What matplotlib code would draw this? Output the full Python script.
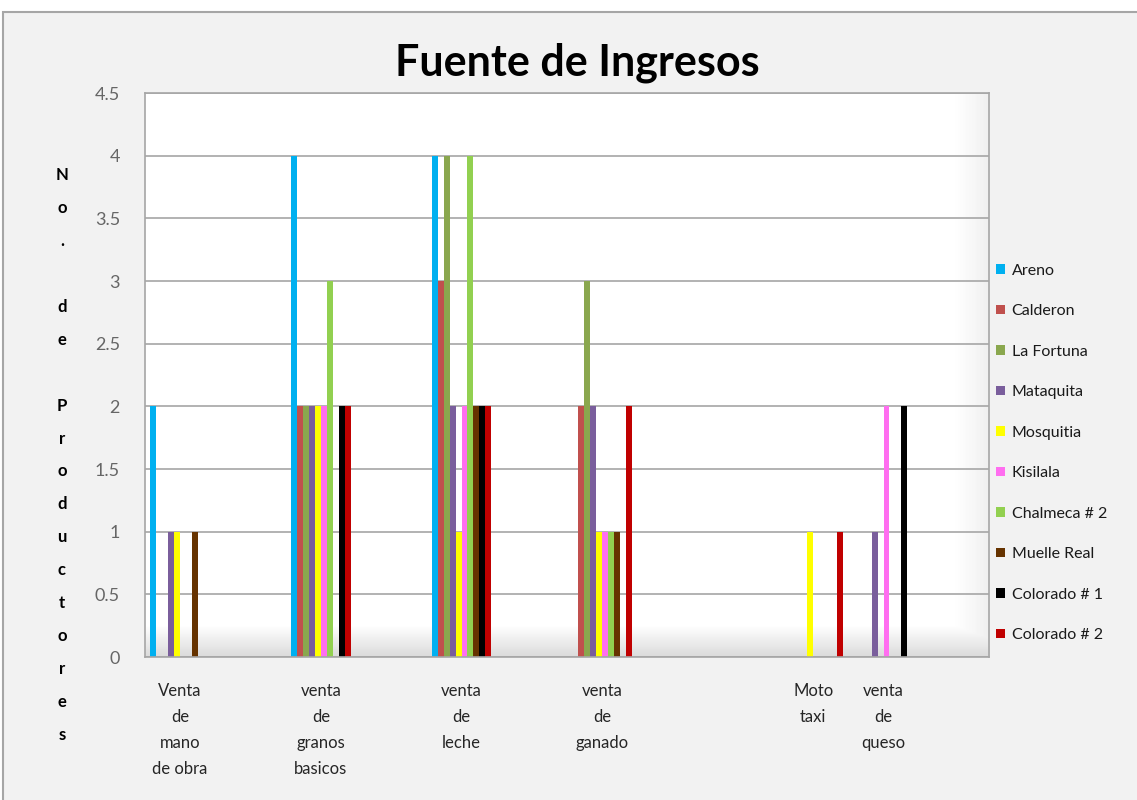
import matplotlib.pyplot as plt
from matplotlib.patches import Rectangle, Patch
import numpy as np

# categories (Excel sheet had blank columns between some of them)
categorias = [
    "Venta\nde\nmano\nde obra", "",
    "venta\nde\ngranos\nbasicos", "",
    "venta\nde\nleche", "",
    "venta\nde\nganado", "", "",
    "Moto\ntaxi",
    "venta\nde\nqueso", "",
]

areno = [2, 0, 4, 0, 4, 0, 0, 0, 0, 0, 0, 0]
calderon = [0, 0, 2, 0, 3, 0, 2, 0, 0, 0, 0, 0]
la_fortuna = [0, 0, 2, 0, 4, 0, 3, 0, 0, 0, 0, 0]
mataquita = [1, 0, 2, 0, 2, 0, 2, 0, 0, 0, 1, 0]
mosquitia = [1, 0, 2, 0, 1, 0, 1, 0, 0, 1, 0, 0]
kisilala = [0, 0, 2, 0, 2, 0, 1, 0, 0, 0, 2, 0]
chalmeca_2 = [0, 0, 3, 0, 4, 0, 1, 0, 0, 0, 0, 0]
muelle_real = [1, 0, 0, 0, 2, 0, 1, 0, 0, 0, 0, 0]
colorado_1 = [0, 0, 2, 0, 2, 0, 0, 0, 0, 0, 2, 0]
colorado_2 = [0, 0, 2, 0, 2, 0, 2, 0, 0, 1, 0, 0]

series = [
    ("Areno", areno, "#00B0F0"),
    ("Calderon", calderon, "#C0504D"),
    ("La Fortuna", la_fortuna, "#8AA74E"),
    ("Mataquita", mataquita, "#7A5E9C"),
    ("Mosquitia", mosquitia, "#FFFF00"),
    ("Kisilala", kisilala, "#FF6EF0"),
    ("Chalmeca # 2", chalmeca_2, "#92D050"),
    ("Muelle Real", muelle_real, "#663300"),
    ("Colorado # 1", colorado_1, "#000000"),
    ("Colorado # 2", colorado_2, "#C00000"),
]

plt.rcParams["font.family"] = ["Lato", "DejaVu Sans"]

W, H = 1137, 800
fig = plt.figure(figsize=(W / 100, H / 100), dpi=100)
fig.patch.set_facecolor("white")

# chart area with grey frame
fig.patches.append(
    Rectangle((3 / W, -0.1), 1.2, 1 - 12 / H + 0.1, transform=fig.transFigure,
              facecolor="#F2F2F2", edgecolor="#A6A6A6", linewidth=1.5, zorder=-1)
)

ax = fig.add_axes([145 / W, 1 - 657 / H, (989 - 145) / W, (657 - 93) / H])
ax.set_zorder(1)
ax.set_facecolor("white")

# soft shading on the floor and right wall of the plot area
yy = np.linspace(0, 1, 300).reshape(-1, 1)
xx = np.linspace(0, 1, 300).reshape(1, -1)
floor = 1 - 0.14 * np.clip((0.055 - yy) / 0.055, 0, 1)
wall = 1 - 0.06 * np.clip((xx - 0.96) / 0.04, 0, 1)
ax.imshow(np.minimum(floor, wall), extent=(0, 1, 0, 1), transform=ax.transAxes,
          cmap="gray", vmin=0, vmax=1, aspect="auto", zorder=0.5, origin="lower")

x = np.arange(len(categorias))
w = 0.085
n = len(series)
for j, (name, vals, col) in enumerate(series):
    ax.bar(x + (j - (n - 1) / 2) * w, vals, width=w, color=col,
           linewidth=0, label=name, zorder=2)

ax.set_xlim(-0.5, len(categorias) - 0.5)
ax.set_ylim(0, 4.5)
ax.set_yticks(np.arange(0, 4.51, 0.5))
ax.set_yticklabels(["0", "0.5", "1", "1.5", "2", "2.5", "3", "3.5", "4", "4.5"])
ax.yaxis.grid(True, color="#A6A6A6", linewidth=1.2, zorder=1)
ax.set_axisbelow(True)

ax.set_xticks(x)
ax.set_xticklabels(categorias, fontsize=12, color="#262626", va="top",
                   linespacing=1.75)
ax.tick_params(axis="x", length=0, pad=19)
ax.tick_params(axis="y", length=0, pad=18, labelsize=13, labelcolor="#666666")

for s in ax.spines.values():
    s.set_color("#A6A6A6")
    s.set_linewidth(1.2)

fig.text(577 / W, 1 - 63 / H, "Fuente de Ingresos", ha="center", va="center",
         fontsize=31, fontweight="bold", color="black")

ylab = "N\no\n.\n\nd\ne\n\nP\nr\no\nd\nu\nc\nt\no\nr\ne\ns"
fig.text(62 / W, 1 - 455 / H, ylab, ha="center", va="center",
         multialignment="center", fontsize=12, fontweight="bold",
         linespacing=2.3, color="black")

handles = [Patch(facecolor=c, edgecolor="none", label=nm) for nm, _, c in series]
fig.legend(handles=handles, loc="center left",
           bbox_to_anchor=(990 / W, 1 - 453 / H), frameon=False,
           fontsize=11.5, labelspacing=1.66, handlelength=0.55,
           handleheight=0.55, handletextpad=0.4, borderaxespad=0,
           labelcolor="#1a1a1a")

fig.savefig("out.png", dpi=100, facecolor=fig.get_facecolor())
